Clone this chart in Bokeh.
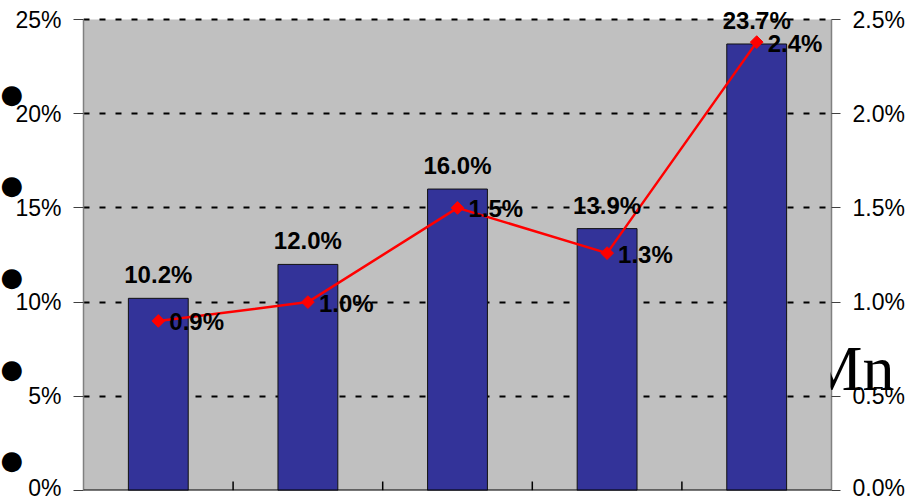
from bokeh.plotting import figure
from bokeh.models import (Range1d, LinearAxis, FixedTicker, PrintfTickFormatter,
                          CustomJSTickFormatter, ColumnDataSource, LabelSet, Span,
                          BoxAnnotation)
from bokeh.core.properties import value
from bokeh.embed import file_html
from bokeh.resources import INLINE

# ---- data ----
periods = [0, 1, 2, 3, 4]
roe = [10.2, 12.0, 16.0, 13.9, 23.7]          # bars, left axis (%)
roa = [0.90, 1.00, 1.50, 1.26, 2.38]          # line, right axis (%)
roe_labels = ["10.2%", "12.0%", "16.0%", "13.9%", "23.7%"]
roa_labels = ["0.9%", "1.0%", "1.5%", "1.3%", "2.4%"]
left_ticks = [0, 5, 10, 15, 20, 25]
right_ticks = [0.0, 0.5, 1.0, 1.5, 2.0, 2.5]

# ---- geometry (picture pixels) ----
W, H = 916, 500
FL, FR, FT, FB = 83, 831, 19, 490
XMIN, XMAX = -0.5, len(periods) - 0.5
YMAX = left_ticks[-1]
PX_PER_Y = (FB - FT) / YMAX
YTOP = YMAX + FT / PX_PER_Y            # frame extended to the canvas top
RATIO = right_ticks[-1] / YMAX

def dx(px):
    return XMIN + (px - FL) * (XMAX - XMIN) / (FR - FL)

def dy(py):
    return (FB - py) / PX_PER_Y

p = figure(width=W, height=H, output_backend="svg", toolbar_location=None,
           x_range=Range1d(XMIN, XMAX), y_range=Range1d(0, YTOP),
           min_border_left=FL, min_border_right=W - FR,
           min_border_top=0, min_border_bottom=H - FB)
p.extra_y_ranges = {"roa": Range1d(0, YTOP * RATIO)}

p.background_fill_color = "white"
p.border_fill_color = "white"
p.outline_line_color = None

# grey plot area (only up to the 25% line)
p.add_layout(BoxAnnotation(bottom=0, top=YMAX, fill_color="#C0C0C0", fill_alpha=1,
                           line_color=None, level="image"))

FONT = value("Liberation Sans")

# left axis
ya = p.yaxis[0]
ya.ticker = FixedTicker(ticks=left_ticks)
ya.formatter = PrintfTickFormatter(format="%d%%")
ya.bounds = (0, YMAX)
ya.axis_line_color = "#808080"
ya.axis_line_width = 1.5
ya.major_tick_line_color = "#404040"
ya.major_tick_in = 0
ya.major_tick_out = 10
ya.minor_tick_line_color = None
ya.major_label_standoff = 12
ya.major_label_text_font = "Liberation Sans"
ya.major_label_text_font_size = "23px"
ya.major_label_text_color = "black"

# right axis
ra = LinearAxis(y_range_name="roa", ticker=FixedTicker(ticks=right_ticks),
                formatter=PrintfTickFormatter(format="%.1f%%"))
ra.bounds = (0, right_ticks[-1])
ra.axis_line_color = "#808080"
ra.axis_line_width = 1.5
ra.major_tick_line_color = "#404040"
ra.major_tick_in = 0
ra.major_tick_out = 9
ra.minor_tick_line_color = None
ra.major_label_standoff = 12
ra.major_label_text_font = "Liberation Sans"
ra.major_label_text_font_size = "23px"
ra.major_label_text_color = "black"
p.add_layout(ra, "right")

p.xaxis.visible = False
p.xgrid.visible = False
p.ygrid.ticker = FixedTicker(ticks=left_ticks[1:])
p.ygrid.grid_line_color = "black"
p.ygrid.grid_line_width = 2
p.ygrid.grid_line_dash = "6 10"

src = dict(x=periods, roe=roe, roa=roa, roe_lbl=roe_labels, roa_lbl=roa_labels)
source = ColumnDataSource(src)

p.vbar(x="x", top="roe", width=0.4, source=source,
       fill_color="#333399", line_color="#111111", line_width=1)

# bottom axis line and ticks
p.add_layout(Span(location=0, dimension="width", line_color="black", line_width=2))
tick_x = [i + 0.5 for i in periods[:-1]]
p.segment(x0=tick_x, y0=[0] * len(tick_x), x1=tick_x, y1=[dy(FB - 9)] * len(tick_x),
          line_color="black", line_width=1.5)

p.line(x="x", y="roa", source=source, y_range_name="roa",
       line_color="#FF0000", line_width=2.5)
p.scatter(x="x", y="roa", source=source, y_range_name="roa", marker="square",
          angle=0.785398, size=9, fill_color="#FF0000", line_color="#FF0000")

p.add_layout(LabelSet(x="x", y="roe", text="roe_lbl", source=source,
                      text_align="center", text_baseline="alphabetic", y_offset=15,
                      text_font=FONT, text_font_style="bold", text_font_size="24px",
                      text_color="black"))
p.add_layout(LabelSet(x="x", y="roa", text="roa_lbl", source=source, y_range_name="roa",
                      text_align="left", text_baseline="middle", x_offset=11, y_offset=-1,
                      text_font=FONT, text_font_style="bold", text_font_size="24px",
                      text_color="black"))

# ---- slide artefacts showing behind the chart (bullets, fragment of big text) ----
def deco_axis(ticks, text, font, size, standoff):
    ax = LinearAxis(ticker=FixedTicker(ticks=ticks),
                    formatter=CustomJSTickFormatter(code="return %r;" % text))
    ax.axis_line_color = None
    ax.major_tick_line_color = None
    ax.minor_tick_line_color = None
    ax.major_tick_in = 0
    ax.major_tick_out = 0
    ax.major_label_standoff = standoff
    ax.major_label_text_font = font
    ax.major_label_text_font_size = size
    ax.major_label_text_color = "black"
    return ax

p.add_layout(deco_axis([dy(368)], "Mn", "Liberation Serif", "64px", -102), "right")
p.add_layout(deco_axis([dy(v) for v in [93, 184, 276, 368, 459]], "\u25CF",
                       "DejaVu Sans", "26px", -907), "right")
p.add_layout(BoxAnnotation(left=dx(787), right=dx(830), bottom=dy(394), top=dy(340),
                           fill_color="#C0C0C0", fill_alpha=1, line_color=None,
                           level="overlay"))

open("out.html", "w").write(file_html(p, INLINE))
